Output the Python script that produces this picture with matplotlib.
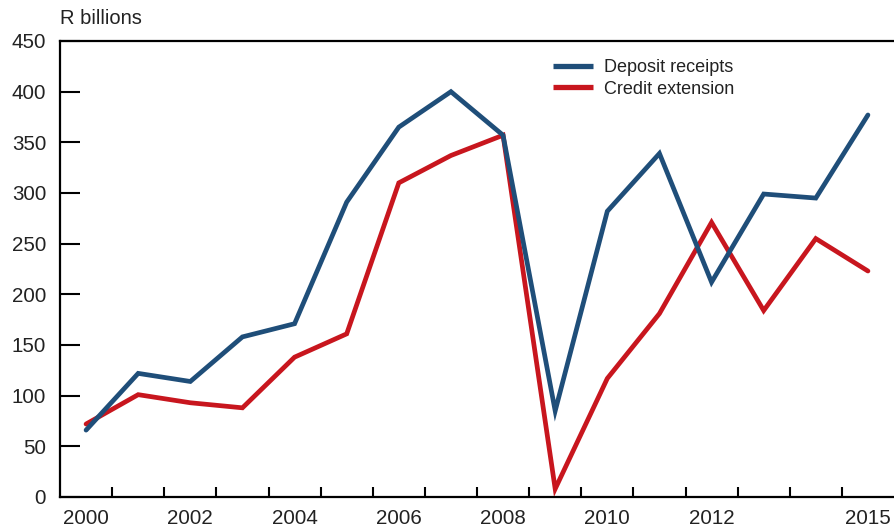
import matplotlib
matplotlib.use("Agg")
import matplotlib.pyplot as plt

years = list(range(2000, 2016))
deposit_receipts = [66, 122, 114, 158, 171, 291, 365, 400, 357, 85, 282, 339, 212, 299, 295, 377]
credit_extension = [72, 101, 93, 88, 138, 161, 310, 337, 357, 8, 117, 181, 271, 184, 255, 223]
year_labels = ["2000", "2002", "2004", "2006", "2008", "2010", "2012", "2015"]

plt.rcParams['font.family'] = ['Liberation Sans', 'DejaVu Sans']
text_color = '#222222'
blue = '#1f4e79'
red = '#c8161e'

fig = plt.figure(figsize=(8.94, 5.30), dpi=100)
ax = fig.add_axes([60 / 894, 33 / 530, 1 - 60 / 894, 456 / 530])

x = list(range(len(years)))
ax.plot(x, credit_extension, color=red, lw=3.4, label='Credit extension',
        solid_capstyle='round', solid_joinstyle='miter', zorder=2)
ax.plot(x, deposit_receipts, color=blue, lw=3.4, label='Deposit receipts',
        solid_capstyle='round', solid_joinstyle='miter', zorder=3)

ax.set_xlim(-0.5, len(years) - 0.5)
ax.set_ylim(0, 450)

# labelled years at the points, tick marks between years
label_pos = [years.index(int(y)) for y in year_labels]
ax.set_xticks(label_pos)
ax.set_xticklabels(year_labels)
ax.set_xticks([i + 0.5 for i in range(len(years) - 1)], minor=True)
ax.tick_params(axis='x', which='major', length=0, pad=9, labelsize=14.8, labelcolor=text_color)
ax.tick_params(axis='x', which='minor', direction='in', length=7.5, width=1.5, color='black')

ax.set_yticks(range(0, 451, 50))
ax.tick_params(axis='y', direction='in', length=14.5, width=1.5, pad=10,
               labelsize=14.8, labelcolor=text_color)

ax.spines['right'].set_visible(False)
for s in ['left', 'bottom', 'top']:
    ax.spines[s].set_linewidth(1.6)

ax.annotate('R billions', xy=(0, 1), xycoords='axes fraction', xytext=(0, 9.5),
            textcoords='offset points', ha='left', va='bottom',
            fontsize=14.5, color=text_color)

handles, labels = ax.get_legend_handles_labels()
leg = ax.legend(handles[::-1], labels[::-1], loc='upper left',
                bbox_to_anchor=(553 / 894, 1 - 59 / 530), bbox_transform=fig.transFigure,
                frameon=False, fontsize=13, handlelength=2.2, handletextpad=0.6,
                labelspacing=0.25, borderpad=0, borderaxespad=0)
for t in leg.get_texts():
    t.set_color(text_color)
for h in leg.get_lines():
    h.set_linewidth(3.8)
    h.set_solid_capstyle('butt')

fig.savefig('out.png', dpi=100)
